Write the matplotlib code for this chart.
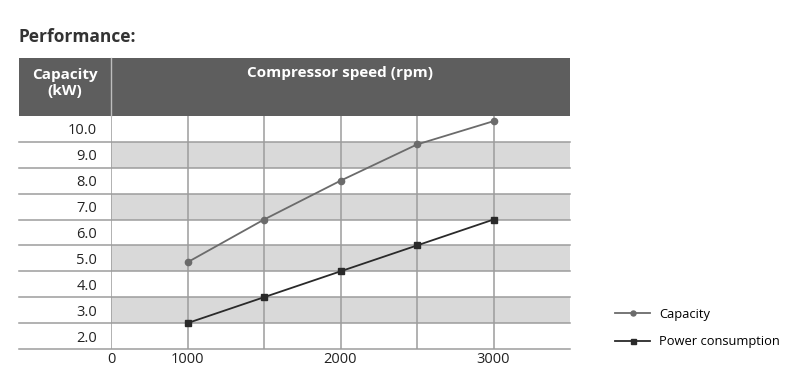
import matplotlib.pyplot as plt
from matplotlib.patches import Rectangle

# data
speed_rpm = [1000, 1500, 2000, 2500, 3000]
capacity_kw = [4.85, 6.5, 8.0, 9.4, 10.3]
power_kw = [2.5, 3.5, 4.5, 5.5, 6.5]

row_values = [2, 3, 4, 5, 6, 7, 8, 9, 10]
row_labels = ["2.0", "3.0", "4.0", "5.0", "6.0", "7.0", "8.0", "9.0", "10.0"]
x_ticks = [500, 1000, 2000, 3000]
x_tick_labels = ["0", "1000", "2000", "3000"]

plt.rcParams['font.family'] = ['Open Sans', 'DejaVu Sans']

W, H = 800, 372
fig = plt.figure(figsize=(W / 100, H / 100), dpi=100)

def fx(px):
    return px / W

def fy(py):
    return 1 - py / H

left, right, top, bottom = 111, 570, 116, 349
ax = fig.add_axes([fx(left), fy(bottom), fx(right - left), fy(top) - fy(bottom)])
ax.set_xlim(500, 3500)
ax.set_ylim(1.5, 10.5)

grid_col = '#9c9c9c'
band_col = '#d9d9d9'
head_col = '#5e5e5e'

# alternating bands
for v in row_values:
    if v % 2 == 1:
        ax.axhspan(v - 0.5, v + 0.5, color=band_col, lw=0, zorder=0)

# horizontal rules extending into the label column
ext = -(left - 19) / (right - left)
for v in row_values:
    ax.axhline(v - 0.5, xmin=ext, xmax=1, color=grid_col, lw=1.1, clip_on=False, zorder=1)

# vertical rules
ax.axvline(500, color=grid_col, lw=1.1, zorder=1)
for s in speed_rpm:
    ax.axvline(s, color=grid_col, lw=1.1, zorder=1)

ax.plot(speed_rpm, capacity_kw, color='#6b6b6b', lw=1.3, marker='o', ms=4.5,
        label='Capacity', zorder=3)
ax.plot(speed_rpm, power_kw, color='#2a2a2a', lw=1.3, marker='s', ms=4.5,
        label='Power consumption', zorder=3)

for sp in ax.spines.values():
    sp.set_visible(False)
ax.set_yticks(row_values)
ax.set_yticklabels(row_labels, fontsize=10.5, color='#222222')
ax.set_xticks(x_ticks)
ax.set_xticklabels(x_tick_labels, fontsize=10.5, color='#222222')
ax.tick_params(length=0)
ax.tick_params(axis='y', pad=10)
ax.tick_params(axis='x', pad=2.5)

# header band
fig.patches.append(Rectangle((fx(19), fy(116)), fx(570 - 19), fy(58) - fy(116),
                             transform=fig.transFigure, color=head_col, lw=0))
fig.lines.append(plt.Line2D([fx(111), fx(111)], [fy(116), fy(58)],
                            transform=fig.transFigure, color='#bdbdbd', lw=1.0))
fig.text(fx(65), fy(83), "Capacity\n(kW)", ha='center', va='center', color='white',
         fontsize=11, fontweight='bold', linespacing=1.2)
fig.text(fx(340), fy(73), "Compressor speed (rpm)", ha='center', va='center',
         color='white', fontsize=11, fontweight='bold')

fig.text(fx(19), fy(37), "Performance:", ha='left', va='center', color='#333333',
         fontsize=12.5, fontweight='bold')

fig.legend(loc='center left', bbox_to_anchor=(fx(610), fy(328)), frameon=False,
           fontsize=9.3, handlelength=2.7, labelspacing=1.1, handletextpad=0.7,
           markerscale=0.8, borderaxespad=0)

fig.savefig('out.png', dpi=100)
